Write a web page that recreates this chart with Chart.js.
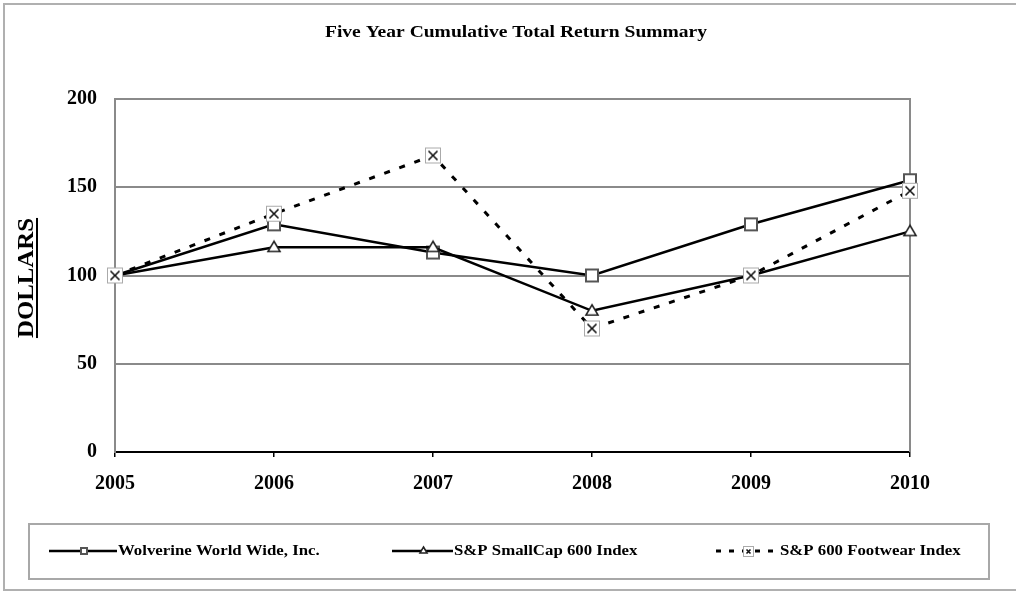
<!DOCTYPE html>
<html>
<head>
<meta charset="utf-8">
<script src="https://cdn.jsdelivr.net/npm/chart.js@4.4.1/dist/chart.umd.min.js"></script>
<style>
  html, body { margin: 0; padding: 0; background: #fff; }
  #chart { display: block; }
</style>
</head>
<body>
<canvas id="chart" width="1016" height="592"></canvas>
<script>
// values
const years = ['2005', '2006', '2007', '2008', '2009', '2010'];
const wolverine = [100, 129, 113, 100, 129, 154];
const smallCap = [100, 116, 116, 80, 100, 125];
const footwear = [100, 135, 168, 70, 100, 148];
const yTicks = [0, 50, 100, 150, 200];

const seriesNames = ['Wolverine World Wide, Inc.', 'S&P SmallCap 600 Index', 'S&P 600 Footwear Index'];
const titleText = 'Five Year Cumulative Total Return Summary';
const serif = '"Liberation Serif", "Times New Roman", serif';

// marker images
function squareMark(s) {
    const c = document.createElement('canvas');
    c.width = s + 4; c.height = s + 4;
    const g = c.getContext('2d');
    g.fillStyle = '#fff';
    g.fillRect(2, 2, s, s);
    g.strokeStyle = '#555';
    g.lineWidth = 2;
    g.strokeRect(2, 2, s, s);
    return c;
}
function triangleMark(s) {
    const c = document.createElement('canvas');
    c.width = s + 4; c.height = s + 4;
    const g = c.getContext('2d');
    g.beginPath();
    g.moveTo(2 + s / 2, 2);
    g.lineTo(2 + s, 2 + s * 0.85);
    g.lineTo(2, 2 + s * 0.85);
    g.closePath();
    g.fillStyle = '#fff';
    g.fill();
    g.strokeStyle = '#222';
    g.lineWidth = 1.6;
    g.stroke();
    return c;
}
function crossBoxMark(s) {
    const c = document.createElement('canvas');
    c.width = s + 2; c.height = s + 2;
    const g = c.getContext('2d');
    g.fillStyle = '#fff';
    g.fillRect(1, 1, s, s);
    g.strokeStyle = '#aaa';
    g.lineWidth = 1;
    g.strokeRect(1.5, 1.5, s - 1, s - 1);
    g.strokeStyle = '#111';
    g.lineWidth = 1.6;
    const m = 3.5;
    g.beginPath();
    g.moveTo(1 + m, 1 + m); g.lineTo(1 + s - m, 1 + s - m);
    g.moveTo(1 + s - m, 1 + m); g.lineTo(1 + m, 1 + s - m);
    g.stroke();
    return c;
}

// text drawn a bit wider than the font, like the scanned original
function wideText(g, text, x, y, sx, align) {
    g.save();
    g.translate(x, y);
    g.scale(sx, 1);
    g.textAlign = align;
    g.fillText(text, 0, 0);
    g.restore();
}

const decor = {
    id: 'decor',
    beforeDraw(chart) {
        const g = chart.ctx;
        g.save();
        g.fillStyle = '#fff';
        g.fillRect(0, 0, chart.width, chart.height);
        // outer frame
        g.strokeStyle = '#b0b0b0';
        g.lineWidth = 2;
        g.beginPath();
        g.moveTo(1020, 4); g.lineTo(4, 4); g.lineTo(4, 590); g.lineTo(1020, 590);
        g.stroke();
        // title
        g.fillStyle = '#000';
        g.font = 'bold 17px ' + serif;
        g.textBaseline = 'middle';
        wideText(g, titleText, 516, 33, 1.15, 'center');
        // y axis label, underlined
        g.save();
        g.translate(27, 278);
        g.rotate(-Math.PI / 2);
        g.font = 'bold 23px ' + serif;
        g.scale(1.08, 1);
        g.textAlign = 'center';
        g.textBaseline = 'middle';
        g.fillText('DOLLARS', 0, 0);
        const w = g.measureText('DOLLARS').width;
        g.fillRect(-w / 2, 9, w, 2);
        g.restore();
        // legend box
        g.strokeStyle = '#a8a8a8';
        g.lineWidth = 2;
        g.strokeRect(29, 524, 960, 55);
        const ly = 551;
        g.font = 'bold 15px ' + serif;
        g.textBaseline = 'middle';
        g.strokeStyle = '#000';
        // Wolverine
        g.lineWidth = 2.5;
        g.beginPath(); g.moveTo(49, ly); g.lineTo(117, ly); g.stroke();
        g.drawImage(squareMark(6), 79, ly - 5);
        g.fillStyle = '#000';
        wideText(g, seriesNames[0], 118, ly, 1.12, 'left');
        // SmallCap
        g.beginPath(); g.moveTo(392, ly); g.lineTo(453, ly); g.stroke();
        g.drawImage(triangleMark(7), 418, ly - 6);
        wideText(g, seriesNames[1], 454, ly, 1.12, 'left');
        // Footwear
        g.lineWidth = 3;
        g.setLineDash([5, 8]);
        g.beginPath(); g.moveTo(716, ly); g.lineTo(777, ly); g.stroke();
        g.setLineDash([]);
        g.drawImage(crossBoxMark(11), 742, ly - 6);
        wideText(g, seriesNames[2], 780, ly, 1.12, 'left');
        g.restore();
    },
    beforeDatasetsDraw(chart) {
        const a = chart.chartArea;
        const g = chart.ctx;
        g.save();
        g.strokeStyle = '#8a8a8a';
        g.lineWidth = 2;
        g.beginPath();
        g.moveTo(a.right, a.top - 1);
        g.lineTo(a.right, a.bottom);
        g.stroke();
        g.restore();
    }
};

new Chart(document.getElementById('chart'), {
    type: 'line',
    data: {
        labels: years,
        datasets: [{
            label: seriesNames[0],
            data: wolverine,
            order: 2,
            borderColor: '#000',
            borderWidth: 2.5,
            pointStyle: squareMark(12),
            pointRadius: 7,
            clip: false
        }, {
            label: seriesNames[1],
            data: smallCap,
            order: 1,
            borderColor: '#000',
            borderWidth: 2.5,
            pointStyle: triangleMark(12),
            pointRadius: 7,
            clip: false
        }, {
            label: seriesNames[2],
            data: footwear,
            order: 0,
            borderColor: '#000',
            borderWidth: 3,
            borderDash: [6, 10],
            pointStyle: crossBoxMark(16),
            pointRadius: 8,
            clip: false
        }]
    },
    options: {
        responsive: false,
        animation: false,
        layout: { padding: { left: 0, top: 99, right: 106, bottom: 80 } },
        plugins: {
            legend: { display: false },
            tooltip: { enabled: false }
        },
        scales: {
            x: {
                offset: false,
                afterFit(scale) { scale.height = 60; },
                grid: {
                    drawOnChartArea: false,
                    drawTicks: true,
                    tickLength: 5,
                    color: '#000',
                    lineWidth: 1.5
                },
                border: { color: '#000', width: 2 },
                ticks: {
                    color: '#000',
                    padding: 15,
                    maxRotation: 0,
                    font: { family: serif, size: 20, weight: 'bold' }
                }
            },
            y: {
                min: 0,
                max: 200,
                afterFit(scale) { scale.width = 115; },
                afterBuildTicks(scale) { scale.ticks = yTicks.map(v => ({ value: v })); },
                grid: { color: '#8a8a8a', lineWidth: 2, drawTicks: false },
                border: { color: '#8a8a8a', width: 2 },
                ticks: {
                    color: '#000',
                    padding: 18,
                    font: { family: serif, size: 20, weight: 'bold' }
                }
            }
        }
    },
    plugins: [decor]
});
</script>
</body>
</html>
